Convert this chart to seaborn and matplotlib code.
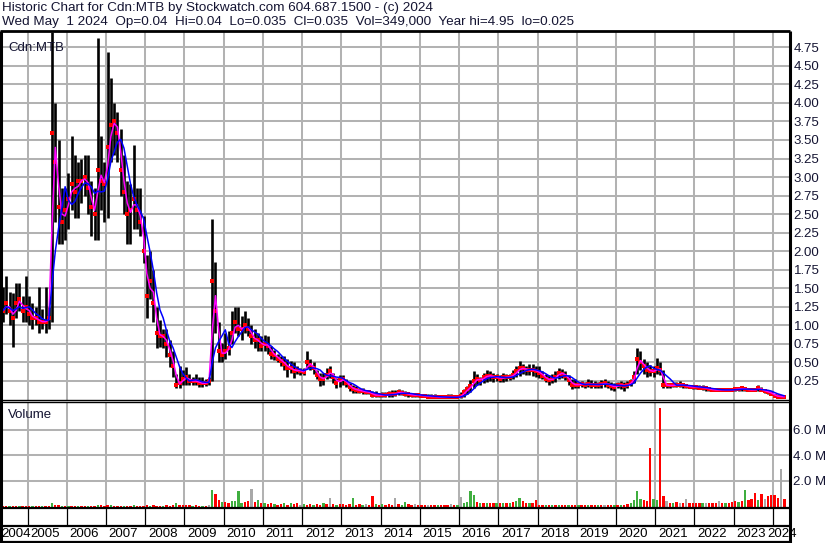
"""Stockwatch style historic chart for Cdn:MTB: monthly price bars, moving averages and volume."""
import matplotlib
matplotlib.use("Agg")
from matplotlib import pyplot as plt
from matplotlib.lines import Line2D
import matplotlib.transforms as mtransforms
import pandas as pd
import seaborn as sns


# monthly bars, May 2004 .. Apr 2024 (one row per year)
highs = [
    1.52, 1.66, 1.45, 1.43, 1.57, 1.57, 1.40, 1.66,
    1.39, 1.30, 1.25, 1.52, 1.22, 1.52, 1.25, 4.95, 4.00, 3.50, 2.85, 2.85,
    3.05, 3.55, 3.30, 3.20, 3.25, 3.30, 3.30, 2.95, 2.85, 4.87, 3.55, 3.20,
    4.69, 4.33, 4.00, 3.88, 3.65, 3.30, 2.95, 2.90, 3.43, 2.85, 2.85, 2.47,
    1.95, 2.00, 1.75, 1.25, 1.07, 0.95, 0.95, 0.80, 0.66, 0.35, 0.45, 0.40,
    0.44, 0.35, 0.30, 0.35, 0.30, 0.30, 0.28, 0.30, 2.44, 1.85, 1.05, 0.76,
    0.90, 0.93, 1.20, 1.25, 1.25, 1.12, 1.20, 1.10, 1.00, 0.95, 0.90, 0.85,
    0.87, 0.85, 0.72, 0.67, 0.62, 0.58, 0.58, 0.54, 0.52, 0.50, 0.45, 0.42,
    0.42, 0.65, 0.54, 0.50, 0.40, 0.36, 0.36, 0.42, 0.45, 0.36, 0.29, 0.33,
    0.33, 0.27, 0.22, 0.20, 0.18, 0.15, 0.15, 0.13, 0.13, 0.11, 0.11, 0.09,
    0.10, 0.10, 0.12, 0.13, 0.13, 0.14, 0.13, 0.12, 0.10, 0.09, 0.09, 0.09,
    0.08, 0.08, 0.07, 0.07, 0.07, 0.06, 0.06, 0.06, 0.07, 0.07, 0.06, 0.06,
    0.10, 0.14, 0.18, 0.26, 0.38, 0.35, 0.30, 0.36, 0.40, 0.38, 0.36, 0.34,
    0.33, 0.36, 0.35, 0.35, 0.40, 0.45, 0.52, 0.48, 0.45, 0.48, 0.48, 0.45,
    0.45, 0.38, 0.35, 0.33, 0.34, 0.38, 0.43, 0.41, 0.38, 0.33, 0.28, 0.27,
    0.24, 0.25, 0.24, 0.27, 0.26, 0.25, 0.24, 0.26, 0.28, 0.25, 0.24, 0.22,
    0.24, 0.25, 0.24, 0.25, 0.28, 0.38, 0.70, 0.65, 0.55, 0.50, 0.46, 0.45,
    0.56, 0.50, 0.40, 0.22, 0.22, 0.22, 0.24, 0.25, 0.22, 0.21, 0.20, 0.20,
    0.20, 0.19, 0.19, 0.18, 0.17, 0.16, 0.15, 0.15, 0.15, 0.15, 0.15, 0.16,
    0.16, 0.17, 0.17, 0.17, 0.16, 0.15, 0.15, 0.19, 0.17, 0.14, 0.13, 0.11,
    0.08, 0.07, 0.06, 0.05,
]
lows = [
    1.05, 1.15, 1.00, 0.71, 1.10, 1.20, 1.05, 1.05,
    1.00, 0.95, 1.00, 0.90, 0.95, 0.90, 0.95, 1.05, 2.40, 2.10, 2.10, 2.15,
    2.30, 2.55, 2.45, 2.45, 2.65, 2.75, 2.50, 2.20, 2.15, 2.15, 2.55, 2.40,
    2.45, 3.20, 3.30, 3.20, 2.75, 2.50, 2.10, 2.10, 2.30, 2.30, 2.20, 1.84,
    1.10, 1.35, 1.05, 0.70, 0.71, 0.70, 0.57, 0.44, 0.30, 0.15, 0.15, 0.20,
    0.20, 0.19, 0.20, 0.20, 0.17, 0.17, 0.18, 0.20, 0.25, 0.90, 0.50, 0.50,
    0.55, 0.60, 0.75, 0.90, 0.85, 0.80, 0.90, 0.85, 0.75, 0.70, 0.65, 0.65,
    0.65, 0.62, 0.54, 0.53, 0.50, 0.45, 0.40, 0.31, 0.36, 0.29, 0.35, 0.33,
    0.33, 0.42, 0.40, 0.35, 0.27, 0.18, 0.20, 0.28, 0.29, 0.22, 0.15, 0.17,
    0.20, 0.17, 0.11, 0.09, 0.09, 0.09, 0.08, 0.07, 0.07, 0.03, 0.04, 0.03,
    0.03, 0.03, 0.04, 0.04, 0.05, 0.06, 0.06, 0.05, 0.04, 0.03, 0.03, 0.03,
    0.03, 0.03, 0.03, 0.02, 0.02, 0.02, 0.02, 0.02, 0.015, 0.015, 0.02, 0.02,
    0.02, 0.04, 0.08, 0.10, 0.15, 0.20, 0.20, 0.22, 0.24, 0.25, 0.24, 0.25,
    0.24, 0.24, 0.25, 0.26, 0.27, 0.30, 0.32, 0.35, 0.33, 0.33, 0.32, 0.30,
    0.29, 0.27, 0.24, 0.20, 0.22, 0.24, 0.28, 0.29, 0.26, 0.20, 0.14, 0.15,
    0.16, 0.17, 0.16, 0.17, 0.15, 0.16, 0.16, 0.16, 0.17, 0.16, 0.13, 0.12,
    0.15, 0.14, 0.12, 0.15, 0.18, 0.22, 0.35, 0.40, 0.35, 0.30, 0.32, 0.30,
    0.35, 0.33, 0.16, 0.16, 0.16, 0.17, 0.17, 0.17, 0.16, 0.15, 0.15, 0.14,
    0.14, 0.14, 0.13, 0.12, 0.12, 0.11, 0.11, 0.11, 0.11, 0.11, 0.11, 0.11,
    0.12, 0.12, 0.12, 0.12, 0.11, 0.11, 0.11, 0.12, 0.11, 0.09, 0.07, 0.06,
    0.04, 0.03, 0.025, 0.03,
]
closes = [
    1.20, 1.30, 1.20, 1.10, 1.30, 1.35, 1.20, 1.25,
    1.15, 1.10, 1.10, 1.05, 1.05, 1.05, 1.10, 3.60, 3.20, 2.60, 2.40, 2.55,
    2.70, 2.90, 2.80, 2.95, 2.95, 3.00, 2.85, 2.60, 2.50, 3.10, 2.95, 2.90,
    3.40, 3.70, 3.75, 3.60, 3.10, 2.80, 2.50, 2.55, 2.70, 2.55, 2.40, 2.00,
    1.40, 1.60, 1.30, 0.90, 0.85, 0.85, 0.75, 0.60, 0.45, 0.20, 0.22, 0.28,
    0.30, 0.25, 0.25, 0.25, 0.22, 0.22, 0.22, 0.25, 1.60, 1.20, 0.65, 0.60,
    0.65, 0.70, 0.90, 1.05, 0.95, 0.95, 1.00, 0.95, 0.85, 0.80, 0.80, 0.72,
    0.75, 0.72, 0.62, 0.60, 0.55, 0.52, 0.48, 0.43, 0.42, 0.38, 0.40, 0.38,
    0.37, 0.50, 0.46, 0.42, 0.33, 0.28, 0.28, 0.33, 0.38, 0.30, 0.22, 0.26,
    0.27, 0.22, 0.17, 0.14, 0.13, 0.12, 0.11, 0.10, 0.10, 0.06, 0.06, 0.06,
    0.06, 0.06, 0.07, 0.07, 0.08, 0.10, 0.09, 0.08, 0.07, 0.06, 0.06, 0.06,
    0.05, 0.05, 0.04, 0.04, 0.04, 0.03, 0.03, 0.03, 0.03, 0.03, 0.03, 0.03,
    0.05, 0.10, 0.14, 0.18, 0.25, 0.28, 0.26, 0.30, 0.32, 0.32, 0.30, 0.30,
    0.28, 0.30, 0.30, 0.31, 0.33, 0.38, 0.42, 0.42, 0.40, 0.40, 0.40, 0.38,
    0.36, 0.32, 0.28, 0.26, 0.28, 0.30, 0.36, 0.35, 0.32, 0.26, 0.20, 0.20,
    0.20, 0.21, 0.20, 0.21, 0.20, 0.20, 0.20, 0.21, 0.22, 0.20, 0.18, 0.17,
    0.19, 0.20, 0.18, 0.20, 0.23, 0.30, 0.55, 0.50, 0.45, 0.40, 0.38, 0.38,
    0.42, 0.40, 0.20, 0.19, 0.19, 0.19, 0.20, 0.20, 0.19, 0.18, 0.17, 0.17,
    0.17, 0.16, 0.16, 0.15, 0.14, 0.13, 0.13, 0.13, 0.13, 0.13, 0.13, 0.13,
    0.14, 0.14, 0.15, 0.14, 0.13, 0.13, 0.13, 0.15, 0.13, 0.11, 0.10, 0.08,
    0.05, 0.04, 0.04, 0.035,
]
# volume in millions of shares
volumes = [
    0.05, 0.06, 0.05, 0.06, 0.05, 0.05, 0.06, 0.05,
    0.05, 0.06, 0.05, 0.05, 0.05, 0.06, 0.05, 0.30, 0.12, 0.08, 0.06, 0.06,
    0.06, 0.07, 0.06, 0.05, 0.05, 0.06, 0.05, 0.05, 0.06, 0.12, 0.08, 0.06,
    0.10, 0.08, 0.06, 0.06, 0.05, 0.05, 0.06, 0.07, 0.08, 0.06, 0.06, 0.07,
    0.08, 0.07, 0.08, 0.07, 0.06, 0.06, 0.08, 0.07, 0.10, 0.30, 0.12, 0.10,
    0.10, 0.08, 0.07, 0.08, 0.06, 0.07, 0.06, 0.08, 1.27, 1.00, 0.50, 0.35,
    0.35, 0.30, 0.40, 0.45, 1.20, 0.30, 0.35, 0.40, 1.40, 0.35, 0.50, 0.30,
    0.25, 0.20, 0.25, 0.20, 0.15, 0.20, 0.25, 0.15, 0.30, 0.20, 0.25, 0.15,
    0.20, 0.15, 0.20, 0.15, 0.20, 0.15, 0.30, 0.20, 0.63, 0.20, 0.15, 0.20,
    0.20, 0.15, 0.20, 0.70, 0.15, 0.20, 0.15, 0.20, 0.15, 0.80, 0.20, 0.15,
    0.20, 0.15, 0.20, 0.15, 0.63, 0.20, 0.15, 0.35, 0.20, 0.15, 0.20, 0.15,
    0.10, 0.12, 0.10, 0.12, 0.10, 0.10, 0.08, 0.10, 0.12, 0.20, 0.10, 0.12,
    0.76, 0.30, 0.35, 1.20, 0.90, 0.35, 0.30, 0.25, 0.30, 0.25, 0.30, 0.25,
    0.25, 0.30, 0.25, 0.30, 0.35, 0.45, 0.70, 0.40, 0.30, 0.25, 0.30, 0.50,
    0.15, 0.12, 0.10, 0.12, 0.10, 0.12, 0.10, 0.12, 0.10, 0.10, 0.12, 0.10,
    0.10, 0.08, 0.10, 0.08, 0.10, 0.08, 0.10, 0.08, 0.10, 0.10, 0.12, 0.10,
    0.10, 0.10, 0.15, 0.20, 0.30, 0.50, 1.20, 0.60, 0.50, 0.40, 4.60, 0.60,
    0.50, 7.70, 0.80, 0.40, 0.30, 0.30, 0.35, 0.30, 0.25, 0.60, 0.30, 0.25,
    0.30, 0.25, 0.30, 0.25, 0.30, 0.25, 0.30, 0.45, 0.30, 0.25, 0.30, 0.35,
    0.40, 0.35, 0.45, 1.30, 0.50, 0.60, 1.05, 0.50, 1.00, 0.60, 0.80, 0.90,
    0.90, 0.70, 2.90, 0.60,
]
# volume bar colour: g = up, r = down, k = unchanged
vol_dir = (
    "rrgrrgrr"
    "rgrrgrrgrrgr" "grrgrrgrrgrr" "rgrrrgrrgrrr" "rgrrrgrrrgrr"
    "rrgrrgrkgrrg" "rrggggrrkrgr" "grrgrrgrgrrk" "grrgrrgrkrgr"
    "rrrgrrgkrrgr" "grrrkrggrrkr" "rrkrrgrrrkrg" "kggggrgrgrrg"
    "rgrgrggrrgrr" "rrgrgrgrrgrr" "grrgrrgrkrrg" "rgrrggggrrrg"
    "grrkrgrkrkrr" "rrgkrrrkrgrr" "rgrgrrrgrkrr"
    "rrkr"
)
year_labels = list(range(2004, 2025))
price_ticks = [0.25, 0.50, 0.75, 1.00, 1.25, 1.50, 1.75, 2.00, 2.25, 2.50,
               2.75, 3.00, 3.25, 3.50, 3.75, 4.00, 4.25, 4.50, 4.75]
volume_ticks = [2, 4, 6]

header_1 = "Historic Chart for Cdn:MTB by Stockwatch.com 604.687.1500 - (c) 2024"
header_2 = ("Wed May  1 2024  Op=0.04  Hi=0.04  Lo=0.035  Cl=0.035  "
            "Vol=349,000  Year hi=4.95  lo=0.025")

months = pd.period_range("2004-05", "2024-04", freq="M")
df = pd.DataFrame({
    "t": months.year + (months.month - 0.5) / 12,
    "high": highs, "low": lows, "close": closes,
    "volume": volumes, "dir": list(vol_dir),
})
df["ma_short"] = df["close"].rolling(2, min_periods=1).mean()
df["ma_long"] = df["close"].rolling(5, min_periods=1).mean()
dir_colors = {"g": "#3fae3f", "r": "#ff0000", "k": "#a8a8a8"}

W, H = 830, 543
X0, X1 = 2004.324, 2024.436


def box(x0, y0, x1, y1):
    return [x0 / W, 1 - y1 / H, (x1 - x0) / W, (y1 - y0) / H]


def hline(x0, x1, y, lw):
    fig.add_artist(Line2D([x0 / W, x1 / W], [1 - y / H, 1 - y / H],
                          transform=fig.transFigure, color="black", lw=lw,
                          solid_capstyle="butt"))


def vline(x, y0, y1, lw):
    fig.add_artist(Line2D([x / W, x / W], [1 - y0 / H, 1 - y1 / H],
                          transform=fig.transFigure, color="black", lw=lw,
                          solid_capstyle="butt"))


sns.set_style("white")
plt.rcParams["font.family"] = ["Liberation Sans", "DejaVu Sans"]
plt.rcParams["font.size"] = 9.5
text_color = "#141432"
grid_color = "#b2b2b2"

fig = plt.figure(figsize=(W / 100, H / 100), dpi=100)
fig.patch.set_facecolor("white")

ax_p = fig.add_axes(box(1, 31, 790, 399.5))
ax_v = fig.add_axes(box(1, 402, 790, 506.5))
ax_s = fig.add_axes(box(1, 508, 790, 526))

for ax in (ax_p, ax_v, ax_s):
    ax.set_xlim(X0, X1)
    ax.patch.set_facecolor("white")
    for sp in ax.spines.values():
        sp.set_visible(False)

# gridlines through the ticks, kept behind the data
for ax in (ax_p, ax_v):
    ax.set_xticks(year_labels[1:])
    ax.tick_params(axis="x", length=0, labelbottom=False)
    ax.xaxis.grid(True, color=grid_color, linewidth=1.45, linestyle="-")
    ax.yaxis.grid(True, color=grid_color, linewidth=1.45, linestyle="-")
    ax.set_axisbelow(True)
ax_s.set_xticks([])

# price panel
ax_p.set_ylim(0, 4.97)
ax_p.set_yticks(price_ticks)
ax_p.set_yticklabels([f"{v:.2f}" for v in price_ticks], color=text_color)
ax_p.yaxis.tick_right()
ax_p.tick_params(axis="y", length=0, pad=2.5)

ax_p.vlines(df["t"], df["low"], df["high"], color="black", lw=1.9, zorder=2)
sns.scatterplot(data=df, x="t", y="close", ax=ax_p, marker="s", s=9,
                color="#ff0000", linewidth=0, zorder=3, legend=False)
sns.lineplot(data=df, x="t", y="ma_short", ax=ax_p, color="#ff00ff", lw=1.1,
             zorder=4, legend=False)
sns.lineplot(data=df, x="t", y="ma_long", ax=ax_p, color="#0000ff", lw=1.1,
             zorder=5, legend=False)
ax_p.set_xlabel("")
ax_p.set_ylabel("")
ax_p.text(0.009, 0.97, "Cdn:MTB", transform=ax_p.transAxes, va="top",
          ha="left", color=text_color)

# volume panel
ax_v.set_ylim(0, 8.15)
ax_v.set_yticks(volume_ticks)
ax_v.set_yticklabels([f"{v:.1f} M" for v in volume_ticks], color=text_color)
ax_v.yaxis.tick_right()
ax_v.tick_params(axis="y", length=0, pad=2.5)
ax_v.bar(df["t"], df["volume"], width=0.06,
         color=[dir_colors[d] for d in df["dir"]], linewidth=0, zorder=2)
ax_v.text(0.009, 0.93, "Volume", transform=ax_v.transAxes, va="top",
          ha="left", color=text_color)

# year strip
ax_s.set_ylim(0, 1)
ax_s.set_yticks([])
ax_s.vlines(year_labels[1:], 0, 1, color="black", lw=0.9)
lab_tr = mtransforms.blended_transform_factory(ax_s.transData, ax_s.transAxes)
for yr in year_labels:
    if yr == year_labels[0]:
        xpos = X0
    elif yr == year_labels[-1]:
        xpos = yr - 0.15
    else:
        xpos = yr + 0.07
    ax_s.text(xpos, -0.42, str(yr), transform=lab_tr, ha="left", va="center",
              color="black", clip_on=False)

# frame lines
hline(0, 790, 31, 2.0)
hline(1, 790, 399.5, 1.0)
hline(1, 790, 402, 1.0)
hline(1, 790, 508, 1.6)
hline(1, 790, 526, 1.6)
hline(1, 790, 541.5, 1.6)
vline(1, 31, 543, 2.2)
vline(790, 31, 543, 2.2)

fig.text(2 / W, 1 - 8 / H, header_1, va="center", ha="left", color=text_color,
         fontsize=9.7)
fig.text(2 / W, 1 - 22 / H, header_2, va="center", ha="left", color=text_color,
         fontsize=9.7)

fig.savefig("out.png", dpi=100)
plt.close("all")
